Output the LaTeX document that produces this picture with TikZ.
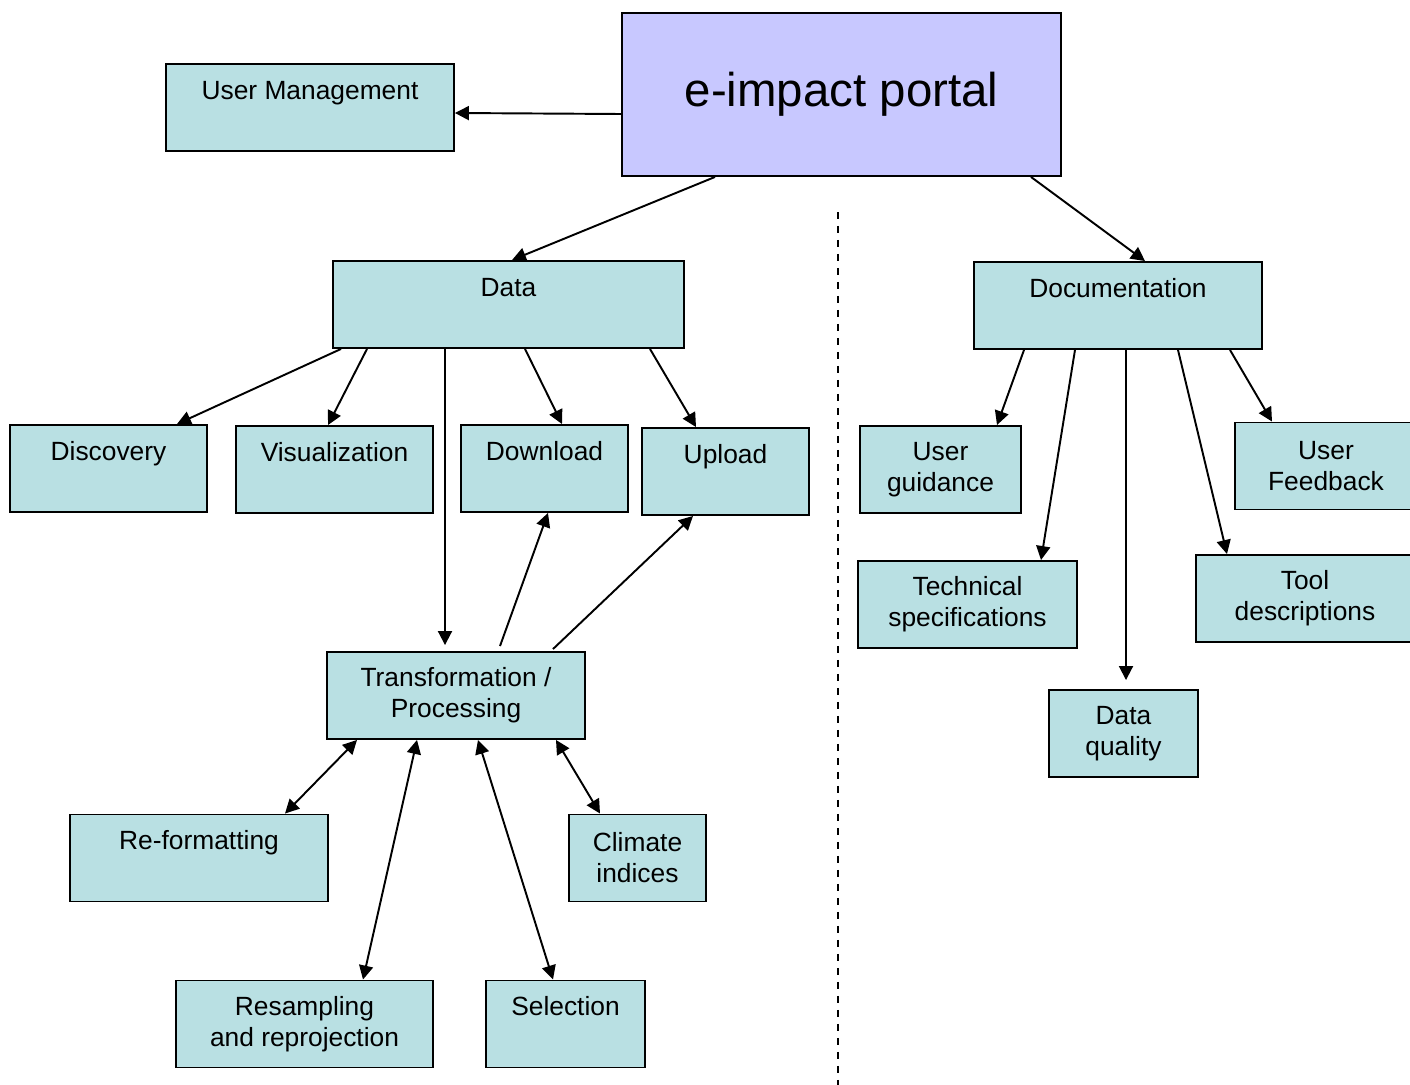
\documentclass[tikz,border=0pt]{standalone}
\usepackage{fontspec}
\setmainfont{Liberation Sans}
\usetikzlibrary{arrows.meta,calc}
\definecolor{boxteal}{RGB}{185,224,227}
\definecolor{portalblue}{RGB}{200,200,255}

\begin{document}
\begin{tikzpicture}[x=0.02cm, y=-0.02cm,
    box/.style={draw=black, fill=boxteal, line width=1.1pt, minimum height=1.74cm,
      align=center, inner sep=0pt, font=\fontsize{15pt}{17.6pt}\selectfont},
    oneline/.style={text height=11pt, text depth=20.6pt},
    arr/.style={line width=1.1pt, -{Triangle[length=0.28cm,width=0.28cm]}},
    twoarr/.style={line width=1.1pt, {Triangle[length=0.28cm,width=0.28cm]}-{Triangle[length=0.28cm,width=0.28cm]}}]
  \useasboundingbox (0,0) rectangle (1410,1085);

  % top
  \node[draw=black, fill=portalblue, line width=1.1pt, minimum width=8.78cm, minimum height=3.26cm,
    inner sep=0pt, font=\fontsize{27pt}{32pt}\selectfont] (portal) at (841.5,94.5) {e-impact portal};
  \node[box, oneline, minimum width=5.76cm] (umgmt) at (310,107.5) {User Management};

  % data side
  \node[box, oneline, minimum width=7.02cm] (data) at (508.5,304.5) {Data};
  \node[box, oneline, minimum width=3.94cm] (disc) at (108.5,468.5) {Discovery};
  \node[box, oneline, minimum width=3.94cm] (vis) at (334.5,469.5) {Visualization};
  \node[box, oneline, minimum width=3.34cm] (down) at (544.5,468.5) {Download};
  \node[box, oneline, minimum width=3.34cm] (up) at (725.5,471.5) {Upload};
  \node[box, minimum width=5.16cm] (trans) at (456,695.5) {Transformation /\\Processing};
  \node[box, oneline, minimum width=5.16cm] (reform) at (199,858) {Re-formatting};
  \node[box, minimum width=2.74cm] (climate) at (637.5,858) {Climate\\indices};
  \node[box, minimum width=5.14cm] (resamp) at (304.5,1024) {Resampling\\and reprojection};
  \node[box, oneline, minimum width=3.18cm] (select) at (565.5,1024) {Selection};

  % documentation side
  \node[box, oneline, minimum width=5.76cm] (doc) at (1118,305.5) {Documentation};
  \node[box, minimum width=3.22cm] (guide) at (940.5,469.5) {User\\guidance};
  \node[box, minimum width=4.38cm] (tech) at (967.5,604.5) {Technical\\specifications};
  \node[box, minimum width=2.98cm] (quality) at (1123.5,733.5) {Data\\quality};
  \node[box, minimum width=4.36cm] (tool) at (1305,598.5) {Tool\\descriptions};
  \node[box, minimum width=3.64cm] (feedback) at (1326,466) {User\\Feedback};

  \draw[line width=1.1pt, dash pattern=on 0.14cm off 0.14cm] (838,212) -- (838,1085);

  \draw[arr] ($(portal.west)+(0,19.5)$) -- ($(umgmt.east)+(0,5.5)$);
  \draw[arr] ($(portal.south)+(-126.5,0)$) -- ($(data.north)+(3.5,0)$);
  \draw[arr] ($(portal.south)+(189.5,0)$) -- ($(doc.north)+(27,0)$);

  \foreach \dx/\n/\ex in {-167.5/disc/68.5, -141.5/vis/-6.5, 16.5/down/17.5, 141.5/up/-29.5}
    \draw[arr] ($(data.south)+(\dx,0)$) -- ($(\n.north)+(\ex,0)$);
  \draw[arr, shorten >=0.12cm] ($(data.south)+(-63.5,0)$) -- ($(trans.north)+(-11,0)$);

  \draw[arr] ($(trans.north)+(44,-5)$) -- ($(down.south)+(3.5,0)$);
  \draw[arr] ($(trans.north)+(97,-2)$) -- ($(up.south)+(-32.5,0)$);

  \foreach \dx/\n/\ex in {-99/reform/86, -39/resamp/58.5, 22/select/-12.5, 100/climate/-37.5}
    \draw[twoarr] ($(trans.south)+(\dx,0)$) -- ($(\n.north)+(\ex,0)$);

  \foreach \dx/\n/\ex in {-94/guide/56.5, -43/tech/73.5, 60/tool/-78, 112/feedback/-54}
    \draw[arr] ($(doc.south)+(\dx,0)$) -- ($(\n.north)+(\ex,0)$);
  \draw[arr, shorten >=0.18cm] ($(doc.south)+(8,0)$) -- ($(quality.north)+(2.5,0)$);
\end{tikzpicture}
\end{document}
